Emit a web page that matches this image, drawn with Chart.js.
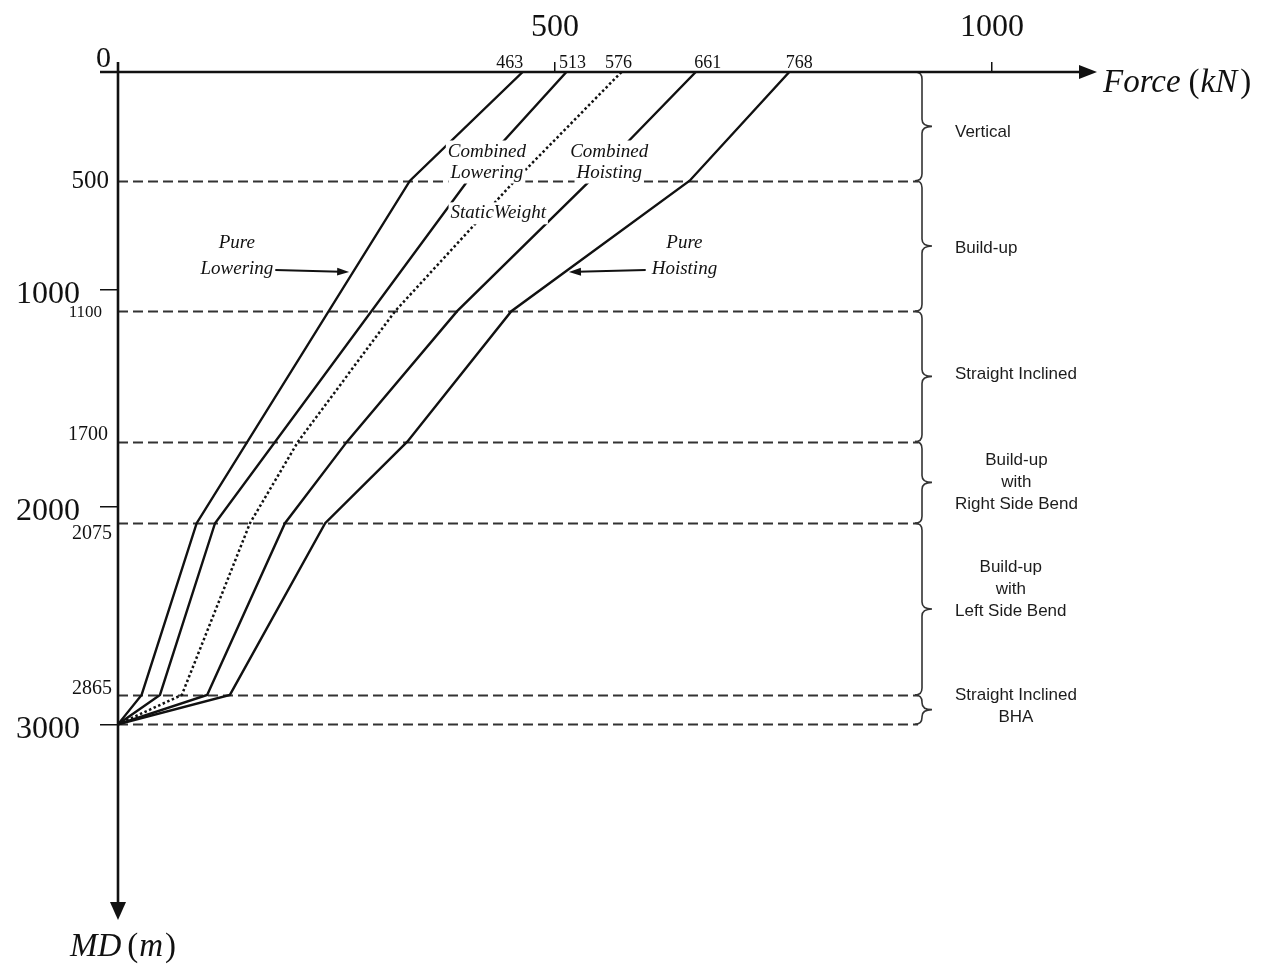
<!DOCTYPE html>
<html>
<head>
<meta charset="utf-8">
<script src="https://cdn.jsdelivr.net/npm/chart.js@4.4.1/dist/chart.umd.min.js"></script>
<style>
  html, body { margin: 0; padding: 0; background: #fff; }
  canvas { display: block; }
</style>
</head>
<body>
<canvas id="chart" width="1270" height="965"></canvas>
<script>
// Measured depth of each well-section boundary (m)
const depths = [0, 500, 1100, 1700, 2075, 2865, 3000];

// Axial force in the string (kN) at each boundary; null where the profile runs straight through
const pureLowering     = [463, 334, null, null,  90,  27, 0];
const combinedLowering = [513, 400, null, null, 111,  48, 0];
const staticWeight     = [576, 454,  317,  206, 151,  73, 0];
const combinedHoisting = [661, 540,  388,  262, 191, 102, 0];
const pureHoisting     = [768, 654,  450,  331, 237, 128, 0];

// Section names between consecutive boundaries
const sectionNames = [
  ['Vertical'],
  ['Build-up'],
  ['Straight Inclined'],
  ['Build-up', 'with', 'Right Side Bend'],
  ['Build-up', 'with', 'Left Side Bend'],
  ['Straight Inclined', 'BHA']
];

// Axis tick values
const forceTicks = [500, 1000];
const depthTicks = [1000, 2000, 3000];

const serif = '"Liberation Serif", "Times New Roman", serif';
const sans = '"Liberation Sans", Arial, sans-serif';

const series = [
  { name: 'Pure Lowering',     values: pureLowering,     dash: [] },
  { name: 'Combined Lowering', values: combinedLowering, dash: [] },
  { name: 'Static Weight',     values: staticWeight,     dash: [2.5, 2.5] },
  { name: 'Combined Hoisting', values: combinedHoisting, dash: [] },
  { name: 'Pure Hoisting',     values: pureHoisting,     dash: [] }
];

// Force on a profile at a given depth (used to aim the call-out arrows)
function forceAt(values, depth) {
  const pts = depths.map((d, i) => [d, values[i]]).filter(p => p[1] !== null);
  for (let i = 0; i < pts.length - 1; i++) {
    const [d0, f0] = pts[i], [d1, f1] = pts[i + 1];
    if (depth >= d0 && depth <= d1) return f0 + (f1 - f0) * (depth - d0) / (d1 - d0);
  }
  return pts[pts.length - 1][1];
}

function arrowLine(ctx, x1, y1, x2, y2, head, half) {
  const a = Math.atan2(y2 - y1, x2 - x1);
  const c = Math.cos(a), s = Math.sin(a);
  ctx.beginPath();
  ctx.moveTo(x1, y1);
  ctx.lineTo(x2 - head * 0.7 * c, y2 - head * 0.7 * s);
  ctx.stroke();
  ctx.beginPath();
  ctx.moveTo(x2, y2);
  ctx.lineTo(x2 - head * c + half * s, y2 - head * s - half * c);
  ctx.lineTo(x2 - head * c - half * s, y2 - head * s + half * c);
  ctx.closePath();
  ctx.fill();
}

function brace(ctx, x, y1, y2) {
  const h = y2 - y1;
  const r = Math.min(7, h / 4), tip = 10, ym = (y1 + y2) / 2;
  ctx.beginPath();
  ctx.moveTo(x - r, y1);
  ctx.quadraticCurveTo(x, y1, x, y1 + r);
  ctx.lineTo(x, ym - r);
  ctx.quadraticCurveTo(x, ym, x + tip, ym);
  ctx.quadraticCurveTo(x, ym, x, ym + r);
  ctx.lineTo(x, y2 - r);
  ctx.quadraticCurveTo(x, y2, x - r, y2);
  ctx.stroke();
}

// Text made of upright and italic pieces, e.g. Force (kN)
function runsWidth(ctx, runs, size) {
  let w = 0;
  runs.forEach(([t, it, gap]) => {
    ctx.font = (it ? 'italic ' : '') + size + 'px ' + serif;
    w += ctx.measureText(t).width + (gap || 0);
  });
  return w;
}
function drawRuns(ctx, runs, x, y, size) {
  let cx = x;
  ctx.textAlign = 'left';
  ctx.textBaseline = 'alphabetic';
  runs.forEach(([t, it, gap]) => {
    ctx.font = (it ? 'italic ' : '') + size + 'px ' + serif;
    ctx.fillText(t, cx, y);
    cx += ctx.measureText(t).width + (gap || 0);
  });
}

// Call-out labels anchored in force/depth space
const notes = [
  { lines: ['Pure', 'Lowering'],     at: [136, 846], gap: 26, target: pureLowering, side: 'right' },
  { lines: ['Combined', 'Lowering'], at: [422, 414], gap: 21 },
  { lines: ['StaticWeight'],         at: [435, 650], gap: 21 },
  { lines: ['Combined', 'Hoisting'], at: [562, 414], gap: 21 },
  { lines: ['Pure', 'Hoisting'],     at: [648, 846], gap: 26, target: pureHoisting, side: 'left' }
];

// Vertical nudges of the section names next to their braces
const sectionLabelDy = [6, 2, -2, 0, -20, -3];

// Appearance of the boundary depth labels on the depth axis
const boundaryLabelStyle = {
  500:  { size: 25, dy: 1,  right: 109 },
  1100: { size: 17, dy: 1,  right: 102 },
  1700: { size: 20, dy: -7, right: 108 },
  2075: { size: 20, dy: 11, right: 112 },
  2865: { size: 20, dy: -6, right: 112 }
};
// Horizontal nudges of the starting-force labels along the force axis
const startLabelDx = [-13, 6, -3, 12, 10];

const decorations = {
  id: 'decorations',
  beforeDatasetsDraw(chart) {
    const { ctx } = chart;
    const xs = chart.scales.x, ys = chart.scales.y;
    const x0 = xs.getPixelForValue(0);
    const braceX = 922;
    ctx.save();

    // dashed section boundaries
    ctx.strokeStyle = '#333';
    ctx.lineWidth = 2;
    ctx.setLineDash([10, 5]);
    depths.slice(1).forEach(d => {
      const y = Math.round(ys.getPixelForValue(d)) + 0.5;
      ctx.beginPath();
      ctx.moveTo(x0, y);
      ctx.lineTo(braceX - 4, y);
      ctx.stroke();
    });
    ctx.setLineDash([]);

    // braces and section names
    ctx.strokeStyle = '#333';
    ctx.lineWidth = 1.6;
    ctx.fillStyle = '#1c1c1c';
    ctx.font = '17px ' + sans;
    ctx.textBaseline = 'middle';
    ctx.textAlign = 'center';
    for (let i = 0; i < depths.length - 1; i++) {
      const y1 = ys.getPixelForValue(depths[i]);
      const y2 = ys.getPixelForValue(depths[i + 1]);
      brace(ctx, braceX, y1, y2);
      const lines = sectionNames[i];
      const w = Math.max(...lines.map(t => ctx.measureText(t).width));
      const cx = 955 + w / 2;
      const lh = 22;
      const top = (y1 + y2) / 2 + sectionLabelDy[i] - (lines.length - 1) * lh / 2;
      lines.forEach((t, k) => ctx.fillText(t, cx, top + k * lh));
    }
    ctx.restore();
  },
  afterDatasetsDraw(chart) {
    const { ctx, chartArea } = chart;
    const xs = chart.scales.x, ys = chart.scales.y;
    const x0 = xs.getPixelForValue(0), y0 = ys.getPixelForValue(0);
    ctx.save();

    // call-out labels with a white backing over the profiles
    ctx.font = 'italic 19px ' + serif;
    ctx.textAlign = 'center';
    ctx.textBaseline = 'middle';
    notes.forEach(n => {
      const cx = xs.getPixelForValue(n.at[0]);
      const cy = ys.getPixelForValue(n.at[1]);
      const top = cy - (n.lines.length - 1) * n.gap / 2;
      n.lines.forEach((t, k) => {
        const w = ctx.measureText(t).width;
        ctx.fillStyle = '#fff';
        ctx.fillRect(cx - w / 2 - 2, top + k * n.gap - 11, w + 4, 22);
      });
      ctx.fillStyle = '#111';
      n.lines.forEach((t, k) => ctx.fillText(t, cx, top + k * n.gap));
      if (n.target) {
        const last = n.lines[n.lines.length - 1];
        const w = ctx.measureText(last).width;
        const ay = top + (n.lines.length - 1) * n.gap + 3;
        const lineX = xs.getPixelForValue(forceAt(n.target, ys.getValueForPixel(ay)));
        ctx.strokeStyle = '#111';
        ctx.lineWidth = 2;
        if (n.side === 'right') {
          arrowLine(ctx, cx + w / 2 + 2, ay - 2, lineX - 4, ay, 12, 4);
        } else {
          arrowLine(ctx, cx - w / 2 - 6, ay - 2, lineX + 4, ay, 12, 4);
        }
      }
    });

    // axes with arrow heads
    ctx.strokeStyle = '#111';
    ctx.fillStyle = '#111';
    ctx.lineWidth = 2.6;
    ctx.beginPath();
    ctx.moveTo(x0 - 18, y0);
    ctx.lineTo(chartArea.right - 14, y0);
    ctx.moveTo(x0, y0 - 10);
    ctx.lineTo(x0, chartArea.bottom - 14);
    ctx.stroke();
    ctx.beginPath();
    ctx.moveTo(chartArea.right, y0);
    ctx.lineTo(chartArea.right - 18, y0 - 7);
    ctx.lineTo(chartArea.right - 18, y0 + 7);
    ctx.closePath();
    ctx.fill();
    ctx.beginPath();
    ctx.moveTo(x0, chartArea.bottom);
    ctx.lineTo(x0 - 8, chartArea.bottom - 18);
    ctx.lineTo(x0 + 8, chartArea.bottom - 18);
    ctx.closePath();
    ctx.fill();

    // axis titles
    drawRuns(ctx, [['Force', true, 8], ['(', false, 1], ['kN', true, 3], [')', false]],
      chartArea.right + 6, y0 + 20, 33);
    const mdRuns = [['MD', true, 6], ['(', false, 1], ['m', true, 2], [')', false]];
    drawRuns(ctx, mdRuns, x0 + 5 - runsWidth(ctx, mdRuns, 33) / 2, chartArea.bottom + 36, 33);

    // origin
    ctx.font = '30px ' + serif;
    ctx.textAlign = 'right';
    ctx.textBaseline = 'alphabetic';
    ctx.fillText('0', x0 - 7, y0 - 5);

    // force at the surface for each profile
    ctx.font = '18px ' + serif;
    ctx.textAlign = 'center';
    series.forEach((s, i) => {
      const v = s.values[0];
      ctx.fillText(String(v), xs.getPixelForValue(v) + startLabelDx[i], y0 - 4);
    });

    // boundary depths
    ctx.textAlign = 'right';
    ctx.textBaseline = 'middle';
    depths.filter(d => d > 0 && !depthTicks.includes(d)).forEach(d => {
      const st = boundaryLabelStyle[d];
      ctx.font = st.size + 'px ' + serif;
      ctx.fillText(String(d), st.right, ys.getPixelForValue(d) + st.dy);
    });
    ctx.restore();
  }
};

const chart = new Chart(document.getElementById('chart'), {
  type: 'line',
  data: {
    datasets: series.map(s => ({
      label: s.name,
      data: depths.map((d, i) => ({ x: s.values[i], y: d })).filter(p => p.x !== null),
      borderColor: '#111',
      borderWidth: s.dash.length ? 2.5 : 2.4,
      borderDash: s.dash,
      pointRadius: 0,
      fill: false,
      tension: 0
    }))
  },
  options: {
    responsive: false,
    animation: false,
    devicePixelRatio: 1,
    layout: { padding: { left: 0, top: 0, right: 173, bottom: 45 } },
    plugins: { legend: { display: false }, tooltip: { enabled: false } },
    scales: {
      x: {
        type: 'linear',
        position: 'top',
        min: 0,
        max: 1120,
        afterFit: s => { s.height = 72; },
        afterBuildTicks: s => { s.ticks = forceTicks.map(v => ({ value: v })); },
        grid: { display: true, drawOnChartArea: false, drawTicks: true, tickLength: 10, color: '#111', lineWidth: 1.5 },
        border: { display: false },
        ticks: { font: { family: serif, size: 32 }, color: '#111', padding: 15, maxRotation: 0, autoSkip: false, callback: v => String(v) }
      },
      y: {
        type: 'linear',
        position: 'left',
        reverse: true,
        min: 0,
        max: 3900,
        afterFit: s => { s.width = 118; },
        afterBuildTicks: s => { s.ticks = depthTicks.map(v => ({ value: v })); },
        grid: { display: true, drawOnChartArea: false, drawTicks: true, tickLength: 18, color: '#111', lineWidth: 1.5 },
        border: { display: false },
        ticks: { font: { family: serif, size: 32 }, color: '#111', padding: 20, labelOffset: 5, autoSkip: false, callback: v => String(v) }
      }
    }
  },
  plugins: [decorations]
});
</script>
</body>
</html>
